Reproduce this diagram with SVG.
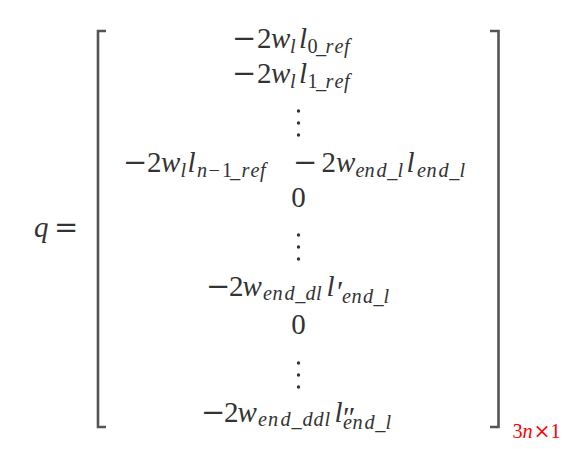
<svg xmlns="http://www.w3.org/2000/svg" width="568" height="449" viewBox="0 0 568 449">
<style>
text{font-family:"Liberation Serif","Times New Roman","DejaVu Serif",serif;fill:#333;font-size:29px}
.i{font-style:italic}
.s{font-size:20.3px}
.op{font-family:"DejaVu Serif","Liberation Serif",serif}
.pr{font-size:30px}
.br{fill:none;stroke:#555;stroke-width:2.6}
.dot{fill:#333}
.red{fill:#ff0000;font-size:20.3px}
</style>
<rect width="568" height="449" fill="#fff"/>
<g id="lhs">
<text font-family="Liberation Serif, serif"><tspan class="i" x="34" y="237">q</tspan><tspan class="op" x="54" y="237">=</tspan></text>
</g>
<g id="brackets">
<path class="br" d="M106,31 H98 V427 H106"/>
<path class="br" d="M490,31 H498.5 V427 H490"/>
</g>
<g id="row1"><text font-family="Liberation Serif, serif"><tspan class="op" x="232" y="48">−</tspan><tspan x="257" y="48">2</tspan><tspan class="i" x="271" y="48">w</tspan><tspan class="i s" x="290" y="53">l</tspan><tspan class="i" x="299" y="48">l</tspan><tspan class="s" x="307.5 316" y="53">0_</tspan><tspan class="i s" x="325.5 334.5 344" y="53">ref</tspan></text></g>
<g id="row2"><text font-family="Liberation Serif, serif"><tspan class="op" x="232" y="83">−</tspan><tspan x="257" y="83">2</tspan><tspan class="i" x="271" y="83">w</tspan><tspan class="i s" x="290" y="88">l</tspan><tspan class="i" x="299" y="83">l</tspan><tspan class="s" x="307.5 316" y="88">1_</tspan><tspan class="i s" x="325.5 334.5 344" y="88">ref</tspan></text></g>
<g id="vdots1"><circle class="dot" cx="298.5" cy="111" r="1.7"/><circle class="dot" cx="298.5" cy="123" r="1.7"/><circle class="dot" cx="298.5" cy="135" r="1.7"/></g>
<g id="row4"><text font-family="Liberation Serif, serif"><tspan class="op" x="123" y="172">−</tspan><tspan x="147" y="172">2</tspan><tspan class="i" x="161" y="172">w</tspan><tspan class="i s" x="180.5" y="177">l</tspan><tspan class="i" x="187.5" y="172">l</tspan><tspan class="i s" x="197" y="177">n</tspan><tspan class="s" x="208.5" y="177">−</tspan><tspan class="s" x="222 230" y="177">1_</tspan><tspan class="i s" x="241.5 250.5 260" y="177">ref</tspan><tspan class="op" x="293" y="172">−</tspan><tspan x="321.5" y="172">2</tspan><tspan class="i" x="336" y="172">w</tspan><tspan class="i s" x="355.5 364.5 376.5 387.3 397.5" y="177">end_l</tspan><tspan class="i" x="406.5" y="172">l</tspan><tspan class="i s" x="417 426.5 438.5 449.3 459.5" y="177">end_l</tspan></text></g>
<g id="row5"><text font-family="Liberation Serif, serif" x="298.5" y="207" text-anchor="middle">0</text></g>
<g id="vdots2"><circle class="dot" cx="298.5" cy="235" r="1.7"/><circle class="dot" cx="298.5" cy="247" r="1.7"/><circle class="dot" cx="298.5" cy="259" r="1.7"/></g>
<g id="row7"><text font-family="Liberation Serif, serif"><tspan class="op" x="206" y="296">−</tspan><tspan x="229" y="296">2</tspan><tspan class="i" x="242.5" y="296">w</tspan><tspan class="i s" x="263 272.5 284.5 295.3 305.5 316" y="300">end_dl</tspan><tspan class="i" x="326.5" y="296">l</tspan><tspan class="pr" x="337" y="301">′</tspan><tspan class="i s" x="342 351.5 363 373.5 383.5" y="303">end_l</tspan></text></g>
<g id="row8"><text font-family="Liberation Serif, serif" x="298.5" y="334" text-anchor="middle">0</text></g>
<g id="vdots3"><circle class="dot" cx="298.5" cy="363" r="1.7"/><circle class="dot" cx="298.5" cy="375" r="1.7"/><circle class="dot" cx="298.5" cy="387" r="1.7"/></g>
<g id="row10"><text font-family="Liberation Serif, serif"><tspan class="op" x="201" y="422">−</tspan><tspan x="224" y="422">2</tspan><tspan class="i" x="237.5" y="422">w</tspan><tspan class="i s" x="258 268 280.5 291.5 302.5 313.5 324.5" y="426">end_ddl</tspan><tspan class="i" x="334.5" y="422">l</tspan><tspan class="pr" x="343" y="427">″</tspan><tspan class="i s" x="343 352.5 364.5 375.3 385.5" y="429">end_l</tspan></text></g>
<g id="dim"><text class="red" font-family="Liberation Serif, serif"><tspan x="512.5" y="438">3</tspan><tspan class="i" x="522.5" y="438">n</tspan><tspan class="op" x="533.5" y="438">×</tspan><tspan x="550.5" y="438">1</tspan></text></g>
</svg>
